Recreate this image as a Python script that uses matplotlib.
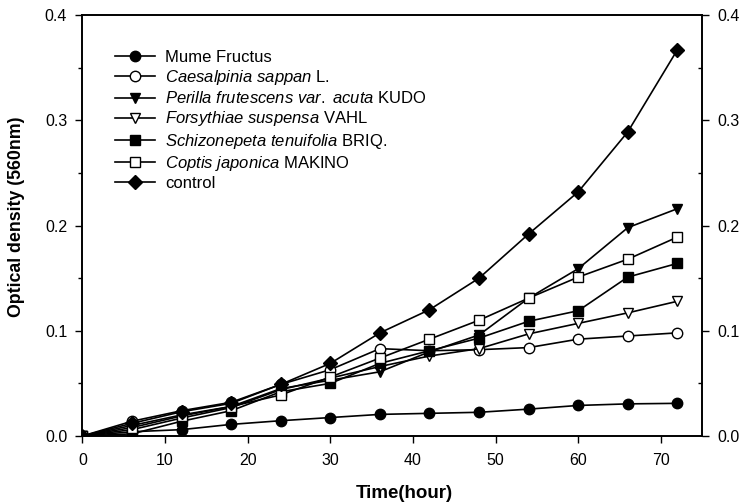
import matplotlib
matplotlib.use("Agg")
import matplotlib.pyplot as plt
from matplotlib.ticker import MultipleLocator, FormatStrFormatter

plt.rcParams['font.family'] = ['Liberation Sans', 'DejaVu Sans']
plt.rcParams['mathtext.fontset'] = 'custom'
plt.rcParams['mathtext.rm'] = 'Liberation Sans'
plt.rcParams['mathtext.it'] = 'Liberation Sans:italic'

hours = [0, 6, 12, 18, 24, 30, 36, 42, 48, 54, 60, 66, 72]

mume = [0, 0.004, 0.006, 0.011, 0.0145, 0.0175, 0.0205, 0.0215, 0.0225, 0.0255, 0.029, 0.0305, 0.031]
caesalpinia = [0, 0.014, 0.024, 0.032, 0.049, 0.063, 0.083, 0.081, 0.082, 0.084, 0.092, 0.095, 0.098]
perilla = [0, 0.010, 0.020, 0.028, 0.045, 0.053, 0.061, 0.080, 0.096, 0.131, 0.159, 0.198, 0.216]
forsythiae = [0, 0.006, 0.017, 0.027, 0.044, 0.055, 0.066, 0.076, 0.083, 0.097, 0.107, 0.117, 0.128]
schizonepeta = [0, 0.002, 0.014, 0.024, 0.042, 0.050, 0.069, 0.081, 0.093, 0.109, 0.119, 0.151, 0.164]
coptis = [0, 0.008, 0.019, 0.028, 0.039, 0.056, 0.074, 0.092, 0.110, 0.131, 0.151, 0.168, 0.189]
control = [0, 0.012, 0.023, 0.031, 0.049, 0.069, 0.098, 0.120, 0.150, 0.192, 0.232, 0.289, 0.367]

labels = [
    "Mume Fructus",
    r"$\it{Caesalpinia\ sappan}$ L.",
    r"$\it{Perilla\ frutescens\ var.\ acuta}$ KUDO",
    r"$\it{Forsythiae\ suspensa}$ VAHL",
    r"$\it{Schizonepeta\ tenuifolia}$ BRIQ.",
    r"$\it{Coptis\ japonica}$ MAKINO",
    "control",
]
series = [mume, caesalpinia, perilla, forsythiae, schizonepeta, coptis, control]
markers = ['o', 'o', 'v', 'v', 's', 's', 'D']
faces = ['black', 'white', 'black', 'white', 'black', 'white', 'black']
msizes = [7.5, 7.5, 7.5, 7.5, 7, 7, 7.5]

fig = plt.figure(figsize=(7.43, 5.04), dpi=100)
ax = fig.add_axes([0.111, 0.135, 0.834, 0.835])

for y, lab, m, fc, ms in zip(series, labels, markers, faces, msizes):
    ax.plot(hours, y, color='black', lw=1.2, marker=m, markerfacecolor=fc,
            markeredgecolor='black', markeredgewidth=1.0, markersize=ms, label=lab)

ax.set_xlim(0, 75)
ax.set_ylim(0, 0.4)
ax.xaxis.set_major_locator(MultipleLocator(10))
ax.yaxis.set_major_locator(MultipleLocator(0.1))
ax.yaxis.set_minor_locator(MultipleLocator(0.05))
ax.yaxis.set_major_formatter(FormatStrFormatter('%.1f'))

ax.tick_params(axis='both', which='major', direction='out', length=5, width=1.0,
               labelsize=11.5, pad=6)
ax.tick_params(axis='x', which='major', pad=7)
ax.tick_params(axis='y', which='minor', direction='out', length=3, width=1.0)
for s in ax.spines.values():
    s.set_linewidth(1.2)

ax2 = ax.twinx()
ax2.set_ylim(0, 0.4)
ax2.yaxis.set_major_locator(MultipleLocator(0.1))
ax2.yaxis.set_minor_locator(MultipleLocator(0.05))
ax2.yaxis.set_major_formatter(FormatStrFormatter('%.1f'))
ax2.tick_params(axis='y', which='major', direction='out', length=5, width=1.0,
                labelsize=11.5, pad=6)
ax2.tick_params(axis='y', which='minor', direction='in', length=3, width=1.0)
for s in ax2.spines.values():
    s.set_linewidth(1.2)

ax.set_xlabel("Time(hour)", fontsize=13.5, fontweight='bold')
ax.xaxis.set_label_coords(0.519, -0.116)
ax.set_ylabel("Optical density (560nm)", fontsize=12.8, fontweight='bold')
ax.yaxis.set_label_coords(-0.093, 0.52)

leg = ax.legend(loc='upper left', bbox_to_anchor=(115 / 743, 1 - 50 / 504),
                bbox_transform=fig.transFigure, frameon=False, borderpad=0,
                borderaxespad=0, fontsize=12, handlelength=2.4, handletextpad=0.6,
                labelspacing=0.19)

fig.savefig("out.png", dpi=100)
